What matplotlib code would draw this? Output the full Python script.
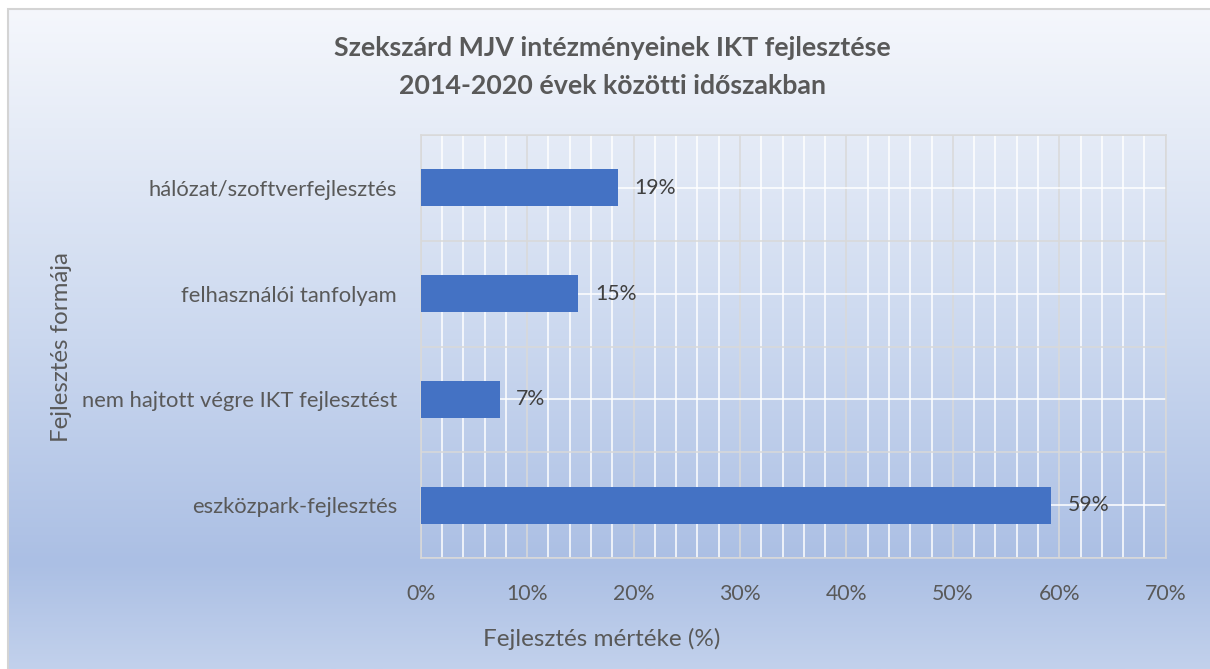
import numpy as np
import matplotlib.pyplot as plt
from matplotlib.colors import LinearSegmentedColormap
from matplotlib.patches import Rectangle
from matplotlib.ticker import MultipleLocator, PercentFormatter

plt.rcParams["font.family"] = ["Lato", "DejaVu Sans"]

# Categories listed bottom to top, shares in percent of institutions
categories = [
    "eszközpark-fejlesztés",
    "nem hajtott végre IKT fejlesztést",
    "felhasználói tanfolyam",
    "hálózat/szoftverfejlesztés",
]
shares = [59.26, 7.41, 14.81, 18.52]

title_lines = ["Szekszárd MJV intézményeinek IKT fejlesztése",
               "2014-2020 évek közötti időszakban"]
xlabel = "Fejlesztés mértéke (%)"
ylabel = "Fejlesztés formája"

W, H = 1210, 669
fig = plt.figure(figsize=(W / 100, H / 100), dpi=100)
fig.patch.set_facecolor("white")

# Chart area background: vertical gradient, light on top, blue toward the bottom
bg = fig.add_axes([8 / W, 0, 1 - 8 / W, 1 - 9 / H], zorder=-10)
grad_cmap = LinearSegmentedColormap.from_list(
    "bg",
    [
        (0.0, (245 / 255, 247 / 255, 252 / 255)),
        (0.18, (230 / 255, 236 / 255, 247 / 255)),
        (0.5, (203 / 255, 216 / 255, 239 / 255)),
        (0.84, (171 / 255, 191 / 255, 228 / 255)),
        (1.0, (194 / 255, 209 / 255, 236 / 255)),
    ],
)
bg.imshow(np.linspace(0, 1, 256).reshape(-1, 1), cmap=grad_cmap,
          aspect="auto", extent=[0, 1, 0, 1])
bg.axis("off")
fig.patches.append(Rectangle((8 / W, -0.01), 1.0, 1 - 9 / H + 0.01,
                             transform=fig.transFigure, fill=False,
                             edgecolor="#d4d4d4", lw=1.5, zorder=-5))

ax = fig.add_axes([420.7 / W, 1 - 558 / H, 745 / W, 423 / H])
ax.patch.set_alpha(0)

y = np.arange(len(categories))
bars = ax.barh(y, shares, height=0.35, color="#4472c4", zorder=3)
for b, v in zip(bars, shares):
    ax.annotate(f"{v:.0f}%", (b.get_width(), b.get_y() + b.get_height() / 2),
                xytext=(12, 0), textcoords="offset points", va="center",
                ha="left", fontsize=15.3, color="#404040", zorder=4)

ax.set_xlim(0, 70)
ax.set_ylim(-0.5, len(categories) - 0.5)
ax.xaxis.set_major_locator(MultipleLocator(10))
ax.xaxis.set_minor_locator(MultipleLocator(2))
ax.xaxis.set_major_formatter(PercentFormatter(decimals=0))
ax.set_yticks(y, categories)
ax.set_yticks(np.arange(-0.5, len(categories)), minor=True)

ax.grid(which="major", axis="x", color="#d9d9d9", lw=1.1, zorder=1)
ax.grid(which="minor", axis="x", color="white", lw=1.1, zorder=1)
ax.grid(which="major", axis="y", color="white", lw=1.1, zorder=1)
ax.grid(which="minor", axis="y", color="#d9d9d9", lw=1.1, zorder=1)
ax.set_axisbelow(True)
for s in ax.spines.values():
    s.set_color("#d9d9d9")
    s.set_linewidth(1.1)

ax.tick_params(which="both", length=0)
ax.tick_params(axis="y", pad=17, labelsize=15.8, labelcolor="#595959")
ax.tick_params(axis="x", pad=19, labelsize=15.3, labelcolor="#595959")

for line, ty in zip(title_lines, [48, 86]):
    fig.text(612 / W, 1 - ty / H, line, ha="center", va="center",
             fontsize=19.3, fontweight="bold", color="#595959")
fig.text(602 / W, 1 - 639 / H, xlabel, ha="center", va="center",
         fontsize=17.5, color="#595959")
fig.text(61 / W, 1 - 347 / H, ylabel, ha="center", va="center",
         rotation=90, fontsize=17.3, color="#595959")

fig.savefig("out.png", dpi=100)
